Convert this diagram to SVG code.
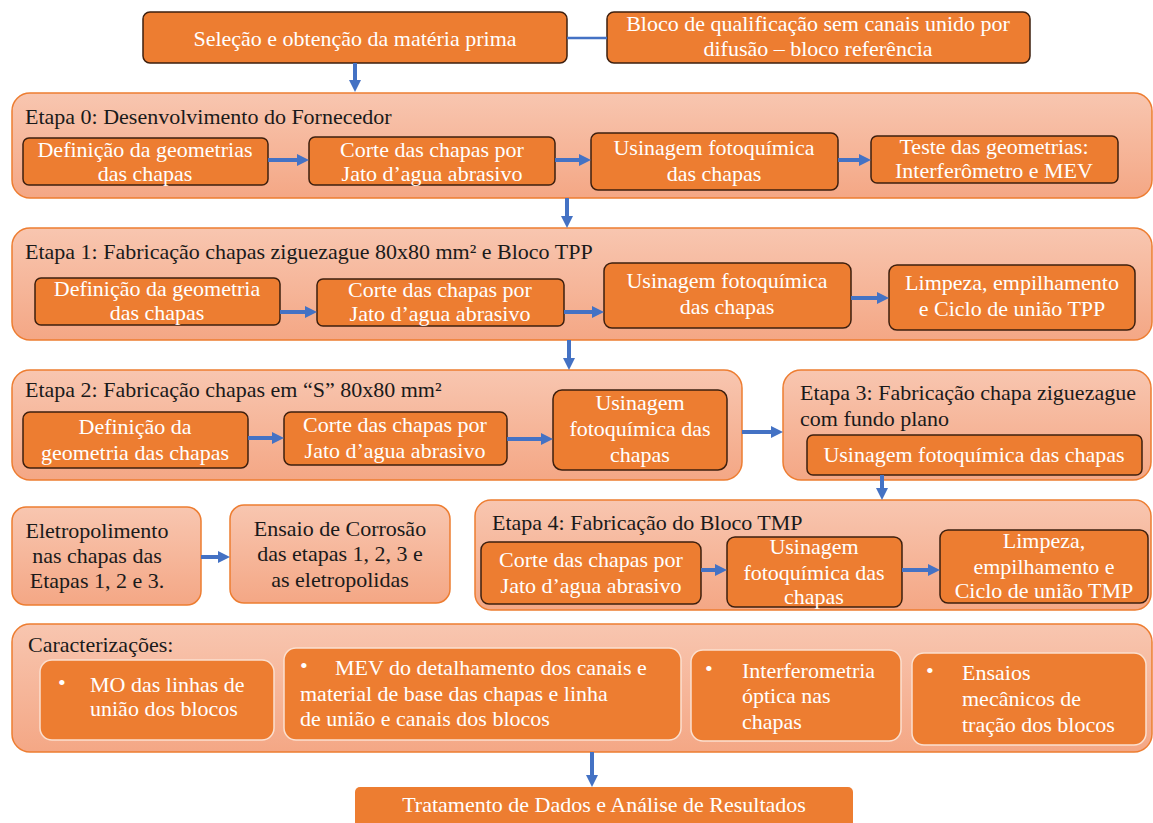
<svg xmlns="http://www.w3.org/2000/svg" width="1153" height="823" viewBox="0 0 1153 823">
<defs>
<linearGradient id="cg" x1="0" y1="0" x2="0" y2="1">
<stop offset="0" stop-color="#F8C6B0"/>
<stop offset="1" stop-color="#F4A785"/>
</linearGradient>
<marker id="ah" markerUnits="userSpaceOnUse" markerWidth="12" markerHeight="12" refX="4" refY="6" orient="auto">
<path d="M0,0 L12,6 L0,12 z" fill="#4472C4"/>
</marker>
</defs>
<style>
text{font-family:'Liberation Serif','DejaVu Serif','Noto Serif','Times New Roman',serif;font-size:22px;}
.w{fill:#FFFFFF;text-anchor:middle;}
.wl{fill:#FFFFFF;}
.d{fill:#1a1a1a;}
.dc{fill:#1a1a1a;text-anchor:middle;}
.box{fill:#ED7D31;stroke:#3d1f0e;stroke-width:1.5;}
.cont{fill:url(#cg);stroke:#ED7D31;stroke-width:1.5;}
.ibox{fill:#ED7D31;stroke:#FBE0D0;stroke-width:1.5;}
.arr{stroke:#4472C4;stroke-width:4;fill:none;marker-end:url(#ah);}
.ln{stroke:#4472C4;stroke-width:2.5;fill:none;}
</style>
<rect width="1153" height="823" fill="#FFFFFF"/>
<g font-family="'Liberation Serif', 'DejaVu Serif', serif">
<g id="n-selecao">
<rect class="box" x="143" y="12" width="424" height="51" rx="7"/>
<text class="w" x="355" y="46">Seleção e obtenção da matéria prima</text>
</g>
<g id="n-bloco-ref">
<rect class="box" x="607" y="12" width="423" height="51" rx="7"/>
<text class="w" x="818" y="31">Bloco de qualificação sem canais unido por</text>
<text class="w" x="818" y="56">difusão – bloco referência</text>
</g>

<g id="etapa0">
<rect class="cont" x="12" y="93" width="1140" height="105" rx="18"/>
<text class="d" x="25" y="124">Etapa 0: Desenvolvimento do Fornecedor</text>
</g>
<g id="e0-def">
<rect class="box" x="23" y="138" width="245" height="47" rx="6"/>
<text class="w" x="145" y="157">Definição da geometrias</text>
<text class="w" x="145" y="181">das chapas</text>
</g>
<g id="e0-corte">
<rect class="box" x="309" y="137" width="246" height="48" rx="6"/>
<text class="w" x="432" y="157">Corte das chapas por</text>
<text class="w" x="432" y="181">Jato d’agua abrasivo</text>
</g>
<g id="e0-usin">
<rect class="box" x="591" y="133" width="247" height="57" rx="7"/>
<text class="w" x="714" y="155">Usinagem fotoquímica</text>
<text class="w" x="714" y="181">das chapas</text>
</g>
<g id="e0-teste">
<rect class="box" x="871" y="136" width="247" height="47" rx="6"/>
<text class="w" x="994" y="154">Teste das geometrias:</text>
<text class="w" x="994" y="178">Interferômetro e MEV</text>
</g>

<g id="etapa1">
<rect class="cont" x="12" y="228" width="1140" height="112" rx="18"/>
<text class="d" x="25" y="259">Etapa 1: Fabricação chapas ziguezague 80x80 mm² e Bloco TPP</text>
</g>
<g id="e1-def">
<rect class="box" x="35" y="278" width="245" height="47" rx="6"/>
<text class="w" x="157" y="296">Definição da geometria</text>
<text class="w" x="157" y="320">das chapas</text>
</g>
<g id="e1-corte">
<rect class="box" x="317" y="279" width="247" height="47" rx="6"/>
<text class="w" x="440" y="297">Corte das chapas por</text>
<text class="w" x="440" y="321">Jato d’agua abrasivo</text>
</g>
<g id="e1-usin">
<rect class="box" x="604" y="263" width="247" height="65" rx="8"/>
<text class="w" x="727" y="288">Usinagem fotoquímica</text>
<text class="w" x="727" y="314">das chapas</text>
</g>
<g id="e1-limp">
<rect class="box" x="889" y="265" width="246" height="65" rx="8"/>
<text class="w" x="1012" y="290">Limpeza, empilhamento</text>
<text class="w" x="1012" y="316">e Ciclo de união TPP</text>
</g>

<g id="etapa2">
<rect class="cont" x="12" y="370" width="730" height="110" rx="18"/>
<text class="d" x="25" y="397">Etapa 2: Fabricação chapas em “S” 80x80 mm²</text>
</g>
<g id="e2-def">
<rect class="box" x="23" y="412" width="225" height="56" rx="7"/>
<text class="w" x="135" y="434">Definição da</text>
<text class="w" x="135" y="460">geometria das chapas</text>
</g>
<g id="e2-corte">
<rect class="box" x="284" y="412" width="223" height="53" rx="7"/>
<text class="w" x="395" y="432">Corte das chapas por</text>
<text class="w" x="395" y="458">Jato d’agua abrasivo</text>
</g>
<g id="e2-usin">
<rect class="box" x="553" y="390" width="174" height="80" rx="9"/>
<text class="w" x="640" y="410">Usinagem</text>
<text class="w" x="640" y="436">fotoquímica das</text>
<text class="w" x="640" y="462">chapas</text>
</g>

<g id="etapa3">
<rect class="cont" x="783" y="370" width="368" height="110" rx="18"/>
<text class="d" x="800" y="400">Etapa 3: Fabricação chapa ziguezague</text>
<text class="d" x="800" y="426">com fundo plano</text>
</g>
<g id="e3-usin">
<rect class="box" x="807" y="435" width="335" height="40" rx="6"/>
<text class="w" x="974" y="462">Usinagem fotoquímica das chapas</text>
</g>

<g id="etapa4">
<rect class="cont" x="475" y="500" width="676" height="110" rx="16"/>
<text class="d" x="492" y="530">Etapa 4: Fabricação do Bloco TMP</text>
</g>
<g id="e4-corte">
<rect class="box" x="481" y="542" width="220" height="62" rx="8"/>
<text class="w" x="591" y="567">Corte das chapas por</text>
<text class="w" x="591" y="593">Jato d’agua abrasivo</text>
</g>
<g id="e4-usin">
<rect class="box" x="727" y="537" width="175" height="70" rx="8"/>
<text class="w" x="814" y="554">Usinagem</text>
<text class="w" x="814" y="580">fotoquímica das</text>
<text class="w" x="814" y="604">chapas</text>
</g>
<g id="e4-limp">
<rect class="box" x="940" y="530" width="208" height="73" rx="8"/>
<text class="w" x="1044" y="548">Limpeza,</text>
<text class="w" x="1044" y="574">empilhamento e</text>
<text class="w" x="1044" y="598">Ciclo de união TMP</text>
</g>

<g id="n-eletro">
<rect class="cont" x="12" y="507" width="189" height="98" rx="14"/>
<text class="dc" x="97" y="538">Eletropolimento</text>
<text class="dc" x="97" y="563">nas chapas das</text>
<text class="dc" x="97" y="588">Etapas 1, 2 e 3.</text>
</g>
<g id="n-ensaio">
<rect class="cont" x="230" y="505" width="220" height="98" rx="14"/>
<text class="dc" x="340" y="536">Ensaio de Corrosão</text>
<text class="dc" x="340" y="561">das etapas 1, 2, 3 e</text>
<text class="dc" x="340" y="587">as eletropolidas</text>
</g>

<g id="caracterizacoes">
<rect class="cont" x="12" y="624" width="1140" height="128" rx="18"/>
<text class="d" x="28" y="652">Caracterizações:</text>
</g>
<g id="c-mo">
<rect class="ibox" x="40" y="660" width="234" height="80" rx="12"/>
<text class="wl" x="58" y="690">•</text>
<text class="wl" x="90" y="692">MO das linhas de</text>
<text class="wl" x="90" y="716">união dos blocos</text>
</g>
<g id="c-mev">
<rect class="ibox" x="284" y="648" width="397" height="92" rx="12"/>
<text class="wl" x="300" y="673">•</text>
<text class="wl" x="335" y="675">MEV do detalhamento dos canais e</text>
<text class="wl" x="300" y="701">material de base das chapas e linha</text>
<text class="wl" x="300" y="726">de união e canais dos blocos</text>
</g>
<g id="c-interf">
<rect class="ibox" x="691" y="650" width="210" height="91" rx="12"/>
<text class="wl" x="705" y="676">•</text>
<text class="wl" x="742" y="678">Interferometria</text>
<text class="wl" x="742" y="703">óptica nas</text>
<text class="wl" x="742" y="729">chapas</text>
</g>
<g id="c-ensaios">
<rect class="ibox" x="912" y="653" width="234" height="92" rx="12"/>
<text class="wl" x="926" y="678">•</text>
<text class="wl" x="962" y="680">Ensaios</text>
<text class="wl" x="962" y="706">mecânicos de</text>
<text class="wl" x="962" y="732">tração dos blocos</text>
</g>

<g id="n-tratamento">
<rect x="355" y="787" width="498" height="50" rx="5" fill="#ED7D31"/>
<text class="w" x="604" y="812">Tratamento de Dados e Análise de Resultados</text>
</g>
</g>
<g id="connectors">
<line class="ln" x1="567" y1="38" x2="607" y2="38"/>
<line class="arr" x1="355" y1="63" x2="355" y2="84"/>
<line class="arr" x1="268" y1="160" x2="301" y2="160"/>
<line class="arr" x1="555" y1="160" x2="583" y2="160"/>
<line class="arr" x1="838" y1="160" x2="863" y2="160"/>
<line class="arr" x1="567" y1="198" x2="567" y2="220"/>
<line class="arr" x1="280" y1="312" x2="309" y2="312"/>
<line class="arr" x1="564" y1="312" x2="596" y2="312"/>
<line class="arr" x1="851" y1="298" x2="881" y2="298"/>
<line class="arr" x1="569" y1="340" x2="569" y2="362"/>
<line class="arr" x1="248" y1="438" x2="276" y2="438"/>
<line class="arr" x1="507" y1="439" x2="545" y2="439"/>
<line class="arr" x1="742" y1="432" x2="775" y2="432"/>
<line class="arr" x1="882" y1="475" x2="882" y2="492"/>
<line class="arr" x1="701" y1="570" x2="719" y2="570"/>
<line class="arr" x1="902" y1="570" x2="932" y2="570"/>
<line class="arr" x1="201" y1="557" x2="222" y2="557"/>
<line class="arr" x1="592" y1="752" x2="592" y2="779"/>
</g>
</svg>
